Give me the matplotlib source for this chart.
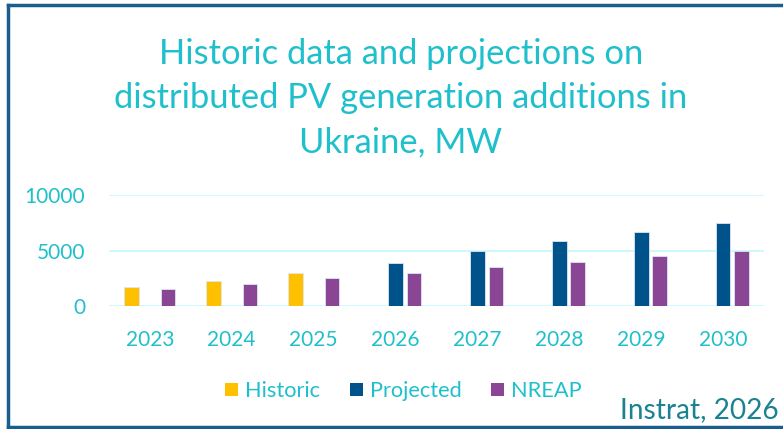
import numpy as np
import matplotlib.pyplot as plt
from matplotlib.lines import Line2D
from matplotlib.patches import Patch

years = ['2023', '2024', '2025', '2026', '2027', '2028', '2029', '2030']
historic = [1700, 2250, 3000, np.nan, np.nan, np.nan, np.nan, np.nan]
projected = [np.nan, np.nan, np.nan, 3850, 5000, 5900, 6650, 7500]
nreap = [1500, 2000, 2500, 3000, 3500, 4000, 4500, 5000]

series = [('Historic', historic, '#FFC000'),
          ('Projected', projected, '#00538A'),
          ('NREAP', nreap, '#8A4694')]

TEXT = '#1FC0CC'
FONT = 'Lato'

fig = plt.figure(figsize=(7.83, 4.29), dpi=100)
ax = fig.add_axes([0.139, 0.2867, 0.837, 0.2581])

x = np.arange(len(years))
slot = 0.223
width = 0.177
for i, (name, vals, color) in enumerate(series):
    ax.bar(x + (i - 1) * slot, vals, width, color=color, label=name,
           edgecolor='#DDE6F0', linewidth=0.6, zorder=3)

ax.set_xlim(-0.5, len(years) - 0.5)
ax.set_ylim(0, 10000)
ax.set_yticks([0, 5000, 10000])
ax.yaxis.grid(True, color='#CCFAFC', linewidth=1.4, zorder=0)
ax.set_xticks(x)
ax.set_xticklabels(years)
for s in ax.spines.values():
    s.set_visible(False)
ax.tick_params(length=0, labelsize=15, labelcolor=TEXT)
ax.tick_params(axis='x', pad=17)
ax.tick_params(axis='y', pad=17)
for lab in ax.get_xticklabels() + ax.get_yticklabels():
    lab.set_family(FONT)

fig.text(0.512, 0.772, 'Historic data and projections on\n'
         'distributed PV generation additions in\nUkraine, MW',
         ha='center', va='center', fontsize=24.8, color=TEXT, family=FONT,
         linespacing=1.46)

handles = [Patch(facecolor=c, edgecolor='none', label=n) for n, _, c in series]
fig.legend(handles=handles, loc='center', bbox_to_anchor=(0.515, 0.088),
           ncol=3, frameon=False, handlelength=0.6, handleheight=0.6,
           columnspacing=1.35, handletextpad=0.32,
           prop={'family': FONT, 'size': 15.7}, labelcolor=TEXT)

fig.text(0.994, 0.045, 'Instrat, 2026', ha='right', va='center',
         fontsize=20.2, color='#1A8290', family=FONT)

# frame around the chart
fig.add_artist(Line2D([0.0105, 0.0105], [0.005, 0.988], color='#1B5E8E',
                      linewidth=2.5, transform=fig.transFigure))
fig.add_artist(Line2D([0.0105, 1.0], [0.988, 0.988], color='#1B5E8E',
                      linewidth=2.5, transform=fig.transFigure))
fig.add_artist(Line2D([0.0105, 1.0], [0.005, 0.005], color='#1B5E8E',
                      linewidth=2.5, transform=fig.transFigure))

fig.savefig('out.png', dpi=100)
